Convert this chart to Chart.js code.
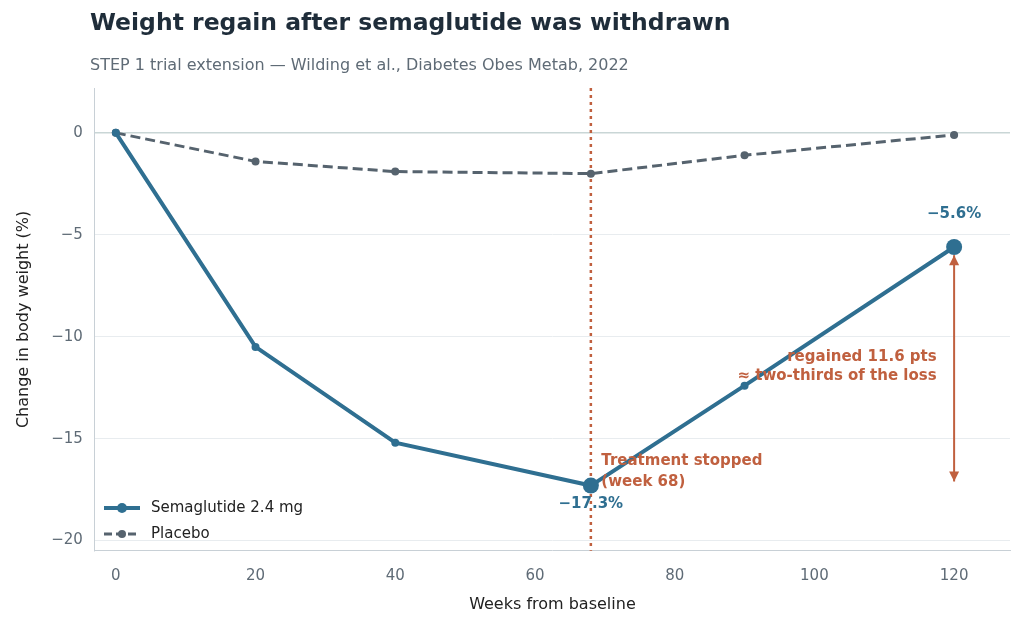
<!DOCTYPE html>
<html><head><meta charset="utf-8">
<script src="https://cdn.jsdelivr.net/npm/chart.js@4"></script>
<style>
body{margin:0;background:#fff;font-family:"DejaVu Sans",sans-serif}
#wrap{position:relative;width:1024px;height:626px}
#t{position:absolute;left:90px;top:8px;font-size:23.5px;font-weight:bold;color:#1f2d3a;font-family:"DejaVu Sans"}
#s{position:absolute;left:90px;top:55px;font-size:16px;color:#5f6b76;font-family:"DejaVu Sans"}
canvas{position:absolute;left:0;top:0}
</style></head><body>
<div id="wrap"><canvas id="c" width="1024" height="626"></canvas>
<div id="t">Weight regain after semaglutide was withdrawn</div>
<div id="s">STEP 1 trial extension — Wilding et al., Diabetes Obes Metab, 2022</div></div>
<script>
const weeks = [0, 20, 40, 68, 90, 120];
const semaglutide = [0, -10.5, -15.2, -17.3, -12.4, -5.6];
const placebo = [0, -1.4, -1.9, -2.0, -1.1, -0.1];
const yTicks = [0, -5, -10, -15, -20];
const blue = '#2f6f91', grey = '#56636e', orange = '#c0603f';
Chart.defaults.font.family = '"DejaVu Sans"';

const overlay = {
  id: 'overlay',
  afterDatasetsDraw(chart) {
    const {ctx, scales: {x, y}} = chart;
    ctx.save();
    ctx.font = 'bold 15px "DejaVu Sans"';
    ctx.fillStyle = blue; ctx.textAlign = 'center';
    ctx.fillText('−17.3%', x.getPixelForValue(68), y.getPixelForValue(-18.4));
    ctx.fillText('−5.6%', x.getPixelForValue(120), y.getPixelForValue(-4.2));
    ctx.fillStyle = orange; ctx.textAlign = 'left';
    ctx.fillText('Treatment stopped', x.getPixelForValue(69.5), y.getPixelForValue(-16.3));
    ctx.fillText('(week 68)', x.getPixelForValue(69.5), y.getPixelForValue(-17.3));
    ctx.textAlign = 'right';
    ctx.fillText('regained 11.6 pts', x.getPixelForValue(117.5), y.getPixelForValue(-11.2));
    ctx.fillText('≈ two-thirds of the loss', x.getPixelForValue(117.5), y.getPixelForValue(-12.1));
    const ax = x.getPixelForValue(120), y1 = y.getPixelForValue(-6.0), y2 = y.getPixelForValue(-17.1);
    ctx.strokeStyle = orange; ctx.lineWidth = 2;
    ctx.beginPath(); ctx.moveTo(ax, y1); ctx.lineTo(ax, y2); ctx.stroke();
    ctx.fillStyle = orange;
    [[y1, 1], [y2, -1]].forEach(([py, d]) => {
      ctx.beginPath(); ctx.moveTo(ax, py); ctx.lineTo(ax - 5, py + 10 * d); ctx.lineTo(ax + 5, py + 10 * d); ctx.closePath(); ctx.fill();
    });
    ctx.font = '15px "DejaVu Sans"'; ctx.textAlign = 'left'; ctx.textBaseline = 'middle';
    [[blue, 'Semaglutide 2.4 mg', [], 4, 5], [grey, 'Placebo', [8, 4], 3, 4]].forEach(([c, l, dash, w, r], i) => {
      const ly = 508 + i * 26;
      ctx.strokeStyle = c; ctx.fillStyle = c; ctx.lineWidth = w; ctx.setLineDash(dash);
      ctx.beginPath(); ctx.moveTo(104, ly); ctx.lineTo(140, ly); ctx.stroke(); ctx.setLineDash([]);
      ctx.beginPath(); ctx.arc(122, ly, r, 0, Math.PI * 2); ctx.fill();
      ctx.fillStyle = '#222'; ctx.fillText(l, 151, ly);
    });
    ctx.restore();
  },
  beforeDatasetsDraw(chart) {
    const {ctx, scales: {x, y}, chartArea: a} = chart;
    ctx.save();
    ctx.strokeStyle = orange; ctx.lineWidth = 2.5; ctx.setLineDash([3, 4]);
    const vx = x.getPixelForValue(68);
    ctx.beginPath(); ctx.moveTo(vx, a.top); ctx.lineTo(vx, a.bottom); ctx.stroke();
    ctx.restore();
  }
};

new Chart(document.getElementById('c'), {
  type: 'line',
  data: { datasets: [
    { data: weeks.map((w, i) => ({x: w, y: semaglutide[i]})), borderColor: blue, backgroundColor: blue, borderWidth: 4,
      pointRadius: [4, 4, 4, 8, 4, 8], pointBorderWidth: 0 },
    { data: weeks.map((w, i) => ({x: w, y: placebo[i]})), borderColor: grey, backgroundColor: grey, borderWidth: 3,
      borderDash: [10, 5], pointRadius: 4, pointBorderWidth: 0 }
  ]},
  options: {
    responsive: false, animation: false,
    layout: { padding: { top: 88, right: 14, left: 10, bottom: 8 } },
    plugins: { legend: { display: false }, tooltip: { enabled: false } },
    scales: {
      x: { type: 'linear', min: -3, max: 128,
        afterBuildTicks: s => { s.ticks = [0, 20, 40, 60, 80, 100, 120].map(v => ({value: v})); },
        grid: { display: false }, border: { color: '#c8d0d6' },
        ticks: { color: '#5f6b76', font: { size: 15 }, padding: 8 },
        title: { display: true, text: 'Weeks from baseline', color: '#222', font: { size: 16 }, padding: { top: 2 } } },
      y: { min: -20.5, max: 2.2,
        afterBuildTicks: s => { s.ticks = yTicks.map(v => ({value: v})); },
        grid: { color: c => c.tick && c.tick.value === 0 ? '#c9d6d6' : '#e8ecef', lineWidth: c => c.tick && c.tick.value === 0 ? 1.5 : 1, drawTicks: false },
        border: { color: '#c8d0d6' },
        ticks: { color: '#5f6b76', font: { size: 15 }, padding: 12, callback: v => v < 0 ? '−' + Math.abs(v) : v },
        title: { display: true, text: 'Change in body weight (%)', color: '#222', font: { size: 16 }, padding: { bottom: 6 } } }
    }
  },
  plugins: [overlay]
});
</script></body></html>
